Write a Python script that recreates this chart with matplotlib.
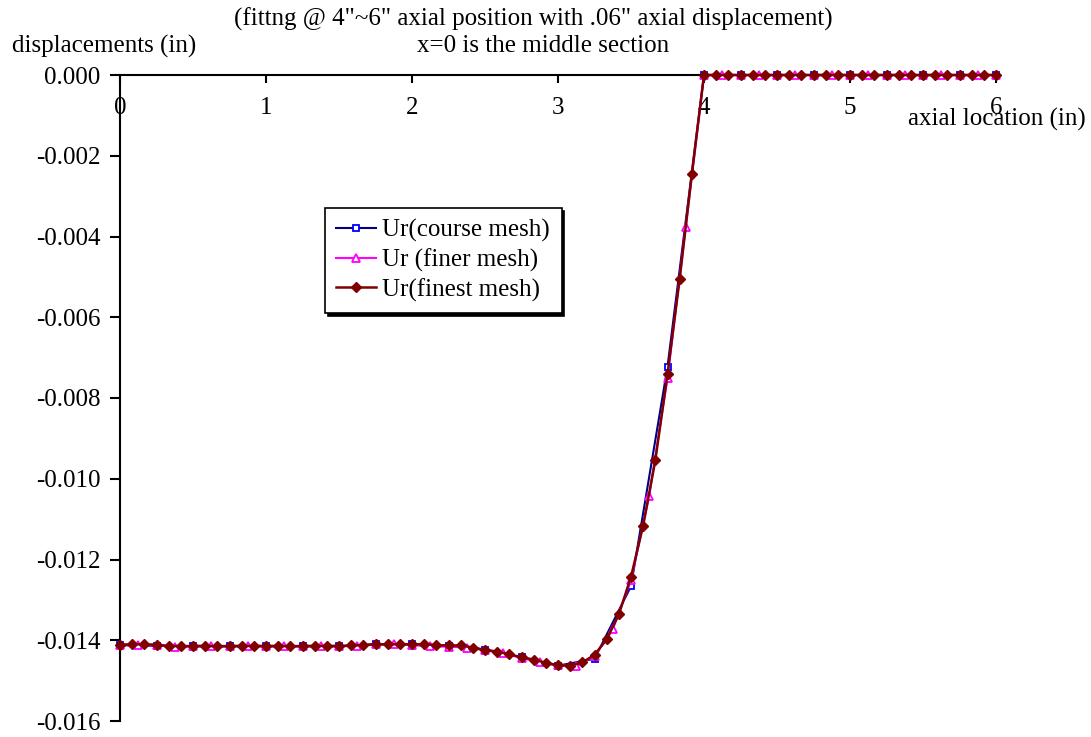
import matplotlib
matplotlib.use("Agg")
import matplotlib.pyplot as plt
from matplotlib.ticker import FormatStrFormatter, FixedLocator

plt.rcParams['font.family'] = ['Liberation Serif', 'DejaVu Serif']
plt.rcParams['axes.unicode_minus'] = False

# ---- data ----
# course mesh: 0.25" spacing
x_course = [i * 0.25 for i in range(25)]
ur_course = [-0.01412, -0.01414, -0.01415, -0.01415, -0.01415, -0.01415, -0.01415,
             -0.01410, -0.01410, -0.01414, -0.01424, -0.01442, -0.01463, -0.01446,
             -0.01266, -0.00723, 0.0, 0.0, 0.0, 0.0, 0.0, 0.0, 0.0, 0.0, 0.0]

# finer mesh: 0.125" spacing
x_finer = [i * 0.125 for i in range(49)]
ur_finer = [-0.01412, -0.01413, -0.01413, -0.01416, -0.01415, -0.01415, -0.01415, -0.01415,
            -0.01415, -0.01415, -0.01415, -0.01415, -0.01415, -0.01414, -0.01410, -0.01410,
            -0.01412, -0.01415, -0.01416, -0.01418, -0.01423, -0.01432, -0.01444, -0.01455,
            -0.01462, -0.01463, -0.01440, -0.01373, -0.01252, -0.01042, -0.00751, -0.00376,
            0.0] + [0.0] * 16

# finest mesh: 1/12" spacing
x_finest = [i / 12 for i in range(73)]
ur_finest = [-0.01411, -0.01410, -0.01410, -0.01411, -0.01414, -0.01415, -0.01414, -0.01414,
             -0.01415, -0.01414, -0.01414, -0.01414, -0.01414, -0.01414, -0.01415, -0.01414,
             -0.01414, -0.01414, -0.01414, -0.01413, -0.01412, -0.01410, -0.01410, -0.01410,
             -0.01410, -0.01410, -0.01412, -0.01413, -0.01413, -0.01418, -0.01424, -0.01428,
             -0.01435, -0.01442, -0.01448, -0.01456, -0.01462, -0.01463, -0.01455, -0.01436,
             -0.01398, -0.01336, -0.01243, -0.01116, -0.00954, -0.00741, -0.00505, -0.00246,
             0.0] + [0.0] * 24

x_ticks = [0, 1, 2, 3, 4, 5, 6]
y_ticks = [0.000, -0.002, -0.004, -0.006, -0.008, -0.010, -0.012, -0.014, -0.016]

title1 = '(fittng @ 4"~6" axial position with .06" axial displacement)'
title2 = 'x=0 is the middle section'

# ---- figure ----
W, H = 1091, 737
fig = plt.figure(figsize=(W / 100, H / 100), dpi=100)
ax = fig.add_axes([120 / W, 1 - 721 / H, 876 / W, 646 / H])

fs = 18
ax.plot(x_course, ur_course, color='#000080', lw=1.5, marker='s', ms=4.5,
        mfc='white', mec='#0000ff', mew=1.3, label='Ur(course mesh)', clip_on=False, zorder=3)
ax.plot(x_finer, ur_finer, color='#ff00ff', lw=1.5, marker='^', ms=6,
        mfc='white', mec='#ff00ff', mew=1.3, label='Ur (finer mesh)', clip_on=False, zorder=4)
ax.plot(x_finest, ur_finest, color='#800000', lw=1.8, marker='D', ms=5.5,
        mfc='#800000', mec='#800000', label='Ur(finest mesh)', clip_on=False, zorder=5)

ax.set_xlim(0, 6)
ax.set_ylim(-0.016, 0.0)

for s in ['top', 'right']:
    ax.spines[s].set_visible(False)
ax.spines['bottom'].set_position(('data', 0))
ax.spines['bottom'].set_zorder(2)
for s in ['left', 'bottom']:
    ax.spines[s].set_linewidth(1.5)

ax.xaxis.set_major_locator(FixedLocator(x_ticks))
ax.yaxis.set_major_locator(FixedLocator(y_ticks))
ax.yaxis.set_major_formatter(FormatStrFormatter('%.3f'))
ax.tick_params(axis='x', direction='out', length=6, width=1.5, pad=10, labelsize=fs)
ax.tick_params(axis='y', direction='out', length=7, width=1.5, pad=7, labelsize=fs)

ax.set_xlabel('axial location (in)', fontsize=fs, ha='right', va='center')
ax.xaxis.set_label_coords((1086 - 120) / 876, (721 - 119) / 646)
ax.set_ylabel('displacements (in)', fontsize=fs, rotation=0, ha='left', va='center')
ax.yaxis.set_label_coords((12 - 120) / 876, (721 - 46) / 646)

fig.text(533 / W, 1 - 19 / H, title1, ha='center', va='center', fontsize=fs)
fig.text(543 / W, 1 - 46 / H, title2, ha='center', va='center', fontsize=fs)

leg = ax.legend(loc='upper left', bbox_to_anchor=((325 - 120) / 876, 1 - (208 - 75) / 646),
                borderaxespad=0, fontsize=fs, fancybox=False, shadow={'color': 'black', 'alpha': 1},
                edgecolor='black', framealpha=1, handlelength=1.6, handletextpad=0.25,
                labelspacing=0.25, borderpad=0.45)
leg.get_frame().set_linewidth(1.2)

fig.savefig('out.png', dpi=100)
